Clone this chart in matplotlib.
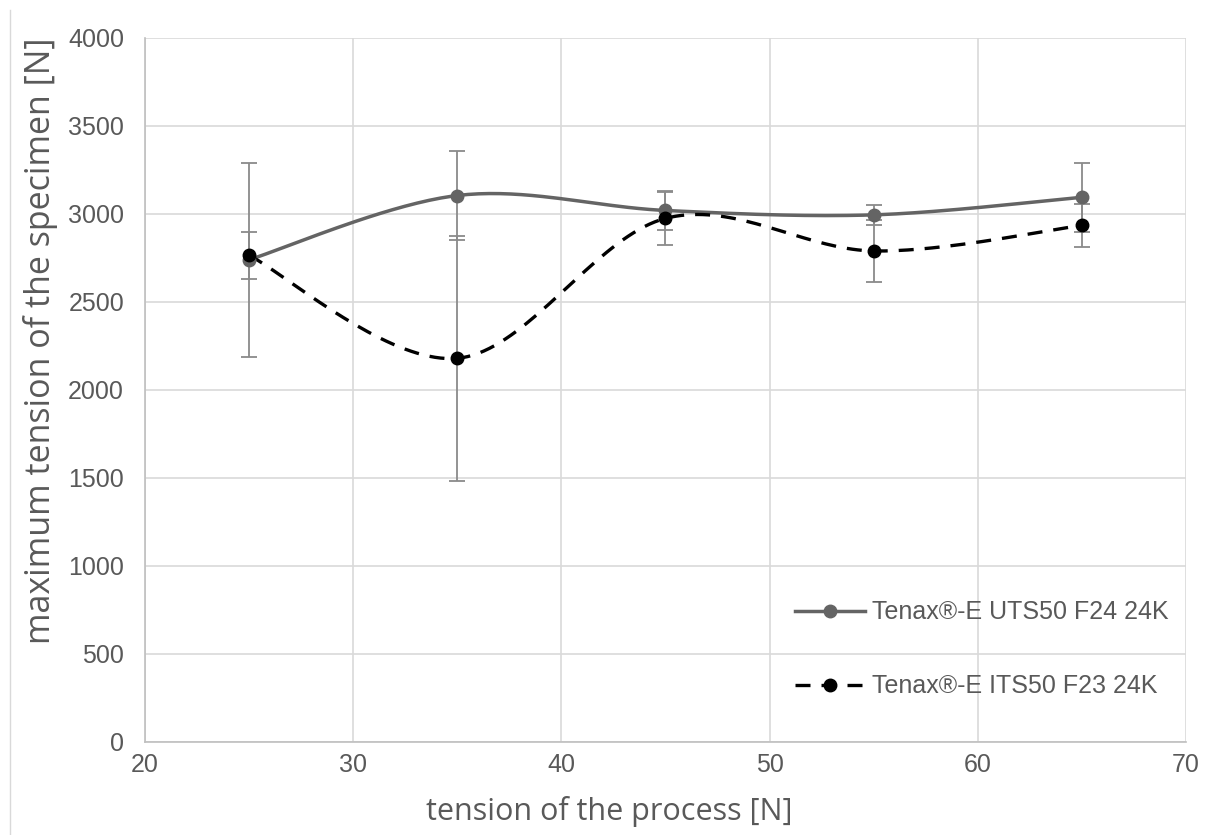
import numpy as np
import matplotlib
matplotlib.use("Agg")
import matplotlib.pyplot as plt
from matplotlib.lines import Line2D

# data
tension = [25, 35, 45, 55, 65]
uts_mean = [2740, 3105, 3020, 2995, 3095]
uts_err = [550, 255, 110, 55, 195]
its_mean = [2765, 2180, 2975, 2790, 2935]
its_err = [135, 695, 150, 175, 120]

labels = ["Tenax®-E UTS50 F24 24K", "Tenax®-E ITS50 F23 24K"]
xlabel = "tension of the process [N]"
ylabel = "maximum tension of the specimen [N]"


def smooth(x, y, n=40):
    # Catmull-Rom / Bezier smoothing like Excel "smoothed line"
    x = np.asarray(x, float)
    y = np.asarray(y, float)
    px = np.concatenate([[x[0]], x, [x[-1]]])
    py = np.concatenate([[y[0]], y, [y[-1]]])
    xs, ys = [], []
    t = np.linspace(0, 1, n)
    for i in range(1, len(px) - 2):
        p0 = np.array([px[i], py[i]])
        p3 = np.array([px[i + 1], py[i + 1]])
        p1 = p0 + (np.array([px[i + 1], py[i + 1]]) - np.array([px[i - 1], py[i - 1]])) / 6
        p2 = p3 - (np.array([px[i + 2], py[i + 2]]) - p0) / 6
        b = ((1 - t) ** 3)[:, None] * p0 + (3 * (1 - t) ** 2 * t)[:, None] * p1 \
            + (3 * (1 - t) * t ** 2)[:, None] * p2 + (t ** 3)[:, None] * p3
        xs.append(b[:, 0])
        ys.append(b[:, 1])
    return np.concatenate(xs), np.concatenate(ys)


fig = plt.figure(figsize=(12.16, 8.35), dpi=100)
ax = fig.add_axes([0.1192, 0.1114, 0.8561, 0.8431])

gray = "#646464"
tick_col = "#595959"

sx, sy = smooth(tension, uts_mean)
ax.plot(sx, sy, color=gray, lw=2.5, zorder=3)
ax.errorbar(tension, uts_mean, yerr=uts_err, fmt="none", ecolor="#8a8a8a",
            elinewidth=1.3, capsize=6, capthick=1.3, zorder=2)
ax.plot(tension, uts_mean, "o", color=gray, ms=9, zorder=4)

sx, sy = smooth(tension, its_mean)
ax.plot(sx, sy, color="black", lw=2.4, dashes=(4.5, 3.3), zorder=3)
ax.errorbar(tension, its_mean, yerr=its_err, fmt="none", ecolor="#8a8a8a",
            elinewidth=1.3, capsize=6, capthick=1.3, zorder=2)
ax.plot(tension, its_mean, "o", color="black", ms=9, zorder=4)

ax.set_xlim(20, 70)
ax.set_ylim(0, 4000)
ax.set_xticks(np.arange(20, 71, 10))
ax.set_yticks(np.arange(0, 4001, 500))
ax.grid(True, color="#d9d9d9", lw=1.2)
ax.set_axisbelow(True)
for s in ["top", "right"]:
    ax.spines[s].set_visible(False)
for s in ["left", "bottom"]:
    ax.spines[s].set_color("#bfbfbf")
    ax.spines[s].set_linewidth(1.2)
ax.tick_params(axis="y", length=0, labelsize=18, labelcolor=tick_col, pad=15,
               labelfontfamily="Liberation Sans")
ax.tick_params(axis="x", length=0, labelsize=18, labelcolor=tick_col, pad=8,
               labelfontfamily="Liberation Sans")

ax.set_xlabel(xlabel, fontsize=22, color=tick_col, family="Open Sans")
ax.set_ylabel(ylabel, fontsize=24.5, color=tick_col, family="Open Sans")
ax.xaxis.set_label_coords(0.4457, -0.077)
ax.yaxis.set_label_coords(-0.084, 0.5696)

handles = [
    Line2D([], [], color=gray, lw=2.5, marker="o", ms=9),
    Line2D([], [], color="black", lw=2.4, dashes=(4.5, 3.3), marker="o", ms=9),
]
ax.legend(handles, labels, loc="lower right", bbox_to_anchor=(1.005, 0.03),
          frameon=False, handlelength=2.8, handletextpad=0.3,
          labelspacing=2.0, labelcolor=tick_col,
          prop={"family": "Liberation Sans", "size": 18})

# faint chart-area border on the left
fig.add_artist(Line2D([10 / 1216, 10 / 1216], [0, 1 - 10 / 835],
                      transform=fig.transFigure, color="#d9d9d9", lw=1))

fig.savefig("out.png", dpi=100)
